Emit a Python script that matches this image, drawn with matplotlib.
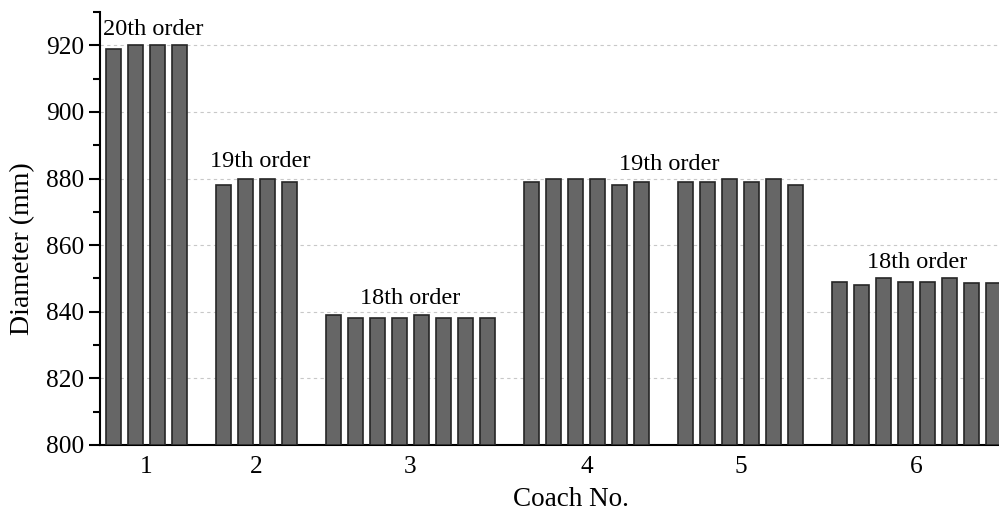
import numpy as np
import matplotlib
matplotlib.use("Agg")
import matplotlib.pyplot as plt
from matplotlib.ticker import MultipleLocator

plt.rcParams["font.family"] = ["Liberation Serif", "DejaVu Serif"]
plt.rcParams["font.size"] = 17.5

# -------------------------------------------------
# Wheel diameters per coach (mm)
# -------------------------------------------------
coaches = ["1", "2", "3", "4", "5", "6"]
coach1 = [919, 920, 920, 920]
coach2 = [878, 880, 880, 879]
coach3 = [839, 838, 838, 838, 839, 838, 838, 838]
coach4 = [879, 880, 880, 880, 878, 879]
coach5 = [879, 879, 880, 879, 880, 878]
coach6 = [849, 848, 850, 849, 849, 850, 848.5, 848.5]
groups = [coach1, coach2, coach3, coach4, coach5, coach6]

order_labels = ["20th order", "19th order", "18th order", "19th order", "18th order"]

# -------------------------------------------------
# Bar positions: one empty slot between coaches
# -------------------------------------------------
xs, ys, centers = [], [], []
pos = 0
for g in groups:
    idx = np.arange(pos, pos + len(g))
    xs.extend(idx)
    ys.extend(g)
    centers.append(idx.mean())
    pos += len(g) + 1

fig = plt.figure(figsize=(9.99, 5.13), dpi=100)
ax = fig.add_axes([0.1001, 0.1326, 0.8999, 0.844])

ax.bar(xs, np.array(ys) - 800, bottom=800, width=0.72,
       color="#666666", edgecolor="#262626", linewidth=1.2, zorder=3)

# order annotations (x in bar slots, y baseline in mm)
label_pos = [(1.8, 923), (6.66, 883.4), (13.5, 842.3), (25.25, 882.5), (36.55, 853)]
for (lx, ly), txt in zip(label_pos, order_labels):
    ax.text(lx, ly, txt, ha="center", va="baseline", zorder=4)

ax.set_xlim(-0.61, 40.25)
ax.set_ylim(800, 930)
ax.set_xticks(centers)
ax.set_xticklabels(coaches)
ax.yaxis.set_major_locator(MultipleLocator(20))
ax.yaxis.set_minor_locator(MultipleLocator(10))
ax.set_yticks([800, 820, 840, 860, 880, 900, 920])

ax.tick_params(axis="both", labelsize=18.3)
ax.tick_params(axis="x", length=0, pad=8)
ax.tick_params(axis="y", which="major", length=8, width=1.5, pad=3.5)
ax.tick_params(axis="y", which="minor", length=5, width=1.5)

ax.grid(axis="y", linestyle=(0, (3, 3)), color="#c8c8c8", linewidth=0.8, zorder=0)
for s in ["top", "right"]:
    ax.spines[s].set_visible(False)
for s in ["left", "bottom"]:
    ax.spines[s].set_linewidth(1.5)

ax.set_xlabel("Coach No.", fontsize=19.5)
ax.set_ylabel("Diameter (mm)", fontsize=20)
ax.xaxis.set_label_coords(0.524, -0.098)
ax.yaxis.set_label_coords(-0.072, 0.453)

fig.savefig("out.png", dpi=100)
